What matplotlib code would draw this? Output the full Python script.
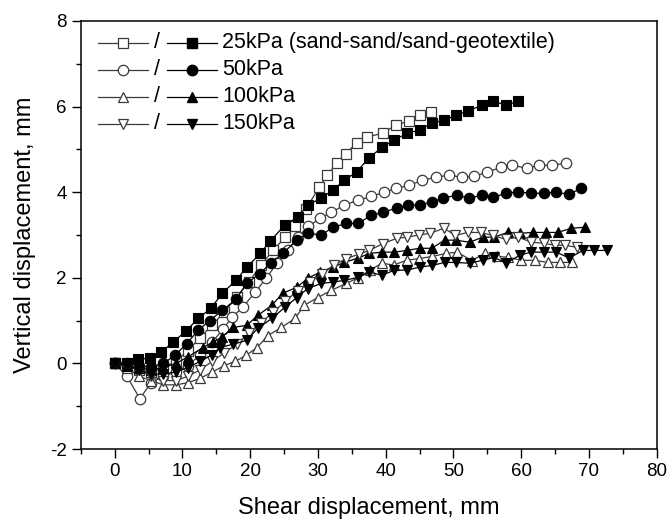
import matplotlib
matplotlib.use("Agg")
import matplotlib.pyplot as plt
from matplotlib.ticker import MultipleLocator

plt.rcParams['font.family'] = ['Liberation Sans', 'DejaVu Sans']
plt.rcParams['axes.unicode_minus'] = False

# 25 kPa
sq_open_x = [0, 1.8, 3.6, 5.4, 7.2, 9.0, 10.8, 12.6, 14.4, 16.2, 18.0, 19.8, 21.6, 23.4,
             25.2, 26.6, 28.2, 30.2, 31.4, 32.8, 34.1, 35.7, 37.3, 39.6, 41.5, 43.5, 45.1, 46.7]
sq_open_y = [0, -0.05, -0.15, -0.2, -0.1, 0.05, 0.3, 0.6, 0.9, 1.2, 1.55, 1.9, 2.3, 2.65,
             2.95, 3.2, 3.6, 4.12, 4.4, 4.68, 4.9, 5.15, 5.29, 5.38, 5.57, 5.66, 5.8, 5.87]
sq_fill_x = [0, 1.8, 3.5, 5.2, 6.9, 8.6, 10.5, 12.3, 14.2, 15.9, 17.9, 19.5, 21.5, 22.9,
             25.1, 27.0, 28.5, 30.5, 32.2, 33.9, 35.7, 37.5, 39.5, 41.3, 43.2, 45.0, 46.8,
             48.6, 50.4, 52.2, 54.2, 55.9, 57.8, 59.6]
sq_fill_y = [0, 0, 0.1, 0.12, 0.26, 0.5, 0.75, 1.05, 1.29, 1.64, 1.94, 2.25, 2.57, 2.85,
             3.23, 3.42, 3.7, 3.86, 4.05, 4.28, 4.47, 4.8, 5.05, 5.22, 5.38, 5.45, 5.61,
             5.68, 5.8, 5.9, 6.03, 6.13, 6.03, 6.13]

# 50 kPa
ci_open_x = [0, 1.8, 3.7, 5.4, 7.2, 9.0, 10.8, 12.6, 14.4, 16.0, 17.3, 18.9, 20.7, 22.4,
             24.0, 25.6, 27.0, 28.6, 30.3, 32.0, 33.9, 35.9, 37.9, 39.8, 41.5, 43.5, 45.4,
             47.5, 49.3, 51.2, 53.1, 55.0, 57.0, 58.7, 60.8, 62.7, 64.6, 66.6]
ci_open_y = [0, -0.3, -0.82, -0.45, -0.3, -0.2, -0.05, 0.2, 0.5, 0.8, 1.08, 1.31, 1.66, 2.0,
             2.35, 2.65, 2.95, 3.2, 3.39, 3.53, 3.7, 3.81, 3.9, 4.0, 4.09, 4.16, 4.28,
             4.35, 4.4, 4.35, 4.37, 4.47, 4.58, 4.63, 4.56, 4.63, 4.63, 4.68]
ci_fill_x = [0, 1.8, 3.6, 5.4, 7.2, 8.9, 10.6, 12.3, 14.0, 15.9, 17.9, 19.5, 21.4, 23.1,
             24.8, 26.9, 28.5, 30.5, 32.2, 34.2, 35.9, 37.9, 39.6, 41.6, 43.3, 45.0, 46.8,
             48.4, 50.5, 52.3, 54.2, 55.9, 57.8, 59.6, 61.5, 63.3, 65.2, 67.0, 68.9]
ci_fill_y = [0, 0.02, -0.05, -0.08, 0.0, 0.19, 0.46, 0.77, 1.0, 1.24, 1.5, 1.87, 2.1, 2.35,
             2.57, 2.88, 3.04, 3.0, 3.18, 3.27, 3.27, 3.46, 3.53, 3.63, 3.7, 3.7, 3.77,
             3.86, 3.93, 3.86, 3.93, 3.88, 3.98, 4.0, 3.98, 3.97, 4.0, 3.95, 4.09]

# 100 kPa
tu_open_x = [0, 1.8, 3.6, 5.4, 7.2, 9.0, 10.8, 12.6, 14.4, 16.2, 17.8, 19.4, 21.0, 22.6,
             24.6, 26.6, 28.0, 30.0, 32.0, 34.2, 35.9, 37.7, 39.4, 41.2, 43.1, 44.9, 46.9,
             48.9, 50.6, 52.7, 54.6, 56.4, 58.1, 60.0, 62.0, 63.9, 65.7, 67.5]
tu_open_y = [0, -0.1, -0.3, -0.4, -0.5, -0.5, -0.45, -0.35, -0.2, -0.05, 0.05, 0.19, 0.37,
             0.65, 0.84, 1.05, 1.36, 1.54, 1.71, 1.87, 2.0, 2.18, 2.34, 2.3, 2.41, 2.45,
             2.5, 2.57, 2.6, 2.4, 2.57, 2.5, 2.48, 2.41, 2.41, 2.36, 2.36, 2.36]
tu_fill_x = [0, 1.8, 3.6, 5.4, 7.2, 9.0, 10.8, 13.0, 14.5, 15.8, 17.4, 19.5, 21.1, 23.2,
             24.8, 26.9, 28.5, 30.3, 32.2, 33.9, 35.9, 37.6, 39.5, 41.3, 43.1, 45.0, 46.8,
             48.7, 50.4, 52.4, 54.3, 56.0, 58.0, 59.8, 61.7, 63.6, 65.4, 67.4, 69.4]
tu_fill_y = [0, -0.05, -0.1, -0.15, -0.1, 0.0, 0.15, 0.37, 0.5, 0.61, 0.84, 0.89, 1.12,
             1.36, 1.64, 1.78, 1.99, 2.13, 2.25, 2.36, 2.46, 2.57, 2.6, 2.6, 2.64, 2.69,
             2.69, 2.88, 2.88, 2.83, 2.95, 2.95, 3.06, 3.04, 3.06, 3.06, 3.06, 3.16, 3.18]

# 150 kPa
td_open_x = [0, 1.8, 3.6, 5.4, 7.2, 9.0, 10.8, 12.6, 14.4, 16.2, 18.0, 19.8, 21.6, 23.4,
             25.2, 27.0, 28.8, 30.6, 32.4, 34.2, 36.0, 37.6, 39.6, 41.6, 43.2, 44.9, 46.6,
             48.6, 50.3, 52.1, 54.0, 55.8, 57.7, 59.6, 61.5, 63.3, 65.0, 66.5, 68.3]
td_open_y = [0, -0.05, -0.15, -0.3, -0.4, -0.4, -0.3, -0.15, 0.05, 0.25, 0.45, 0.7, 0.95,
             1.2, 1.45, 1.7, 1.9, 2.1, 2.3, 2.45, 2.55, 2.64, 2.8, 2.92, 2.95, 3.0, 3.04,
             3.16, 2.99, 3.06, 3.06, 2.99, 2.9, 2.95, 2.83, 2.81, 2.76, 2.76, 2.71]
td_fill_x = [0, 1.8, 3.6, 5.4, 7.2, 9.0, 10.8, 12.6, 14.4, 15.5, 17.5, 19.5, 21.1, 23.2,
             25.1, 26.9, 28.5, 30.5, 32.2, 33.9, 35.9, 37.6, 39.5, 41.3, 43.2, 45.0, 46.9,
             48.7, 50.4, 52.4, 54.3, 56.0, 57.8, 59.8, 61.5, 63.3, 65.2, 67.1, 69.1, 70.8,
             72.6]
td_fill_y = [0, -0.05, -0.15, -0.25, -0.25, -0.2, -0.1, 0.05, 0.2, 0.37, 0.45, 0.54, 0.82,
             1.05, 1.31, 1.54, 1.75, 1.87, 1.9, 1.94, 2.01, 2.13, 2.06, 2.18, 2.18, 2.25,
             2.29, 2.36, 2.36, 2.34, 2.41, 2.48, 2.34, 2.53, 2.6, 2.6, 2.6, 2.46, 2.64,
             2.64, 2.64]

labels = ['25kPa (sand-sand/sand-geotextile)', '50kPa', '100kPa', '150kPa']
markers = ['s', 'o', '^', 'v']

OPEN_COLOR = '#3a3a3a'
MS = 7.5


def draw_series(ax, x, y, marker, filled):
    if filled:
        ax.plot(x, y, color='black', lw=0.9, marker=marker, ms=MS,
                mfc='black', mec='black', mew=0.8)
    else:
        ax.plot(x, y, color=OPEN_COLOR, lw=0.9, marker=marker, ms=MS,
                mfc='white', mec=OPEN_COLOR, mew=0.9)


def draw_legend(ax):
    # hand-made legend rows: open / filled  label
    y0 = 0.949
    dy = 0.063
    for i, (lab, m) in enumerate(zip(labels, markers)):
        yy = y0 - i * dy
        ax.plot([0.030, 0.116], [yy, yy], transform=ax.transAxes, color=OPEN_COLOR,
                lw=0.9, clip_on=False)
        ax.plot([0.073], [yy], transform=ax.transAxes, marker=m, ms=MS, mfc='white',
                mec=OPEN_COLOR, mew=0.9, clip_on=False)
        ax.text(0.133, yy, '/', transform=ax.transAxes, ha='center', va='center',
                fontsize=15.5)
        ax.plot([0.149, 0.236], [yy, yy], transform=ax.transAxes, color='black',
                lw=0.9, clip_on=False)
        ax.plot([0.193], [yy], transform=ax.transAxes, marker=m, ms=MS, mfc='black',
                mec='black', clip_on=False)
        ax.text(0.246, yy, lab, transform=ax.transAxes, ha='left', va='center',
                fontsize=15.5)


fig = plt.figure(figsize=(6.68, 5.24), dpi=100)
ax = fig.add_axes([0.121, 0.143, 0.862, 0.817])

series = [
    (sq_open_x, sq_open_y, 's', False), (sq_fill_x, sq_fill_y, 's', True),
    (ci_open_x, ci_open_y, 'o', False), (ci_fill_x, ci_fill_y, 'o', True),
    (tu_open_x, tu_open_y, '^', False), (tu_fill_x, tu_fill_y, '^', True),
    (td_open_x, td_open_y, 'v', False), (td_fill_x, td_fill_y, 'v', True),
]
for x, y, m, f in series:
    draw_series(ax, x, y, m, f)

ax.set_xlim(-5, 80)
ax.set_ylim(-2, 8)
ax.xaxis.set_major_locator(MultipleLocator(10))
ax.xaxis.set_minor_locator(MultipleLocator(5))
ax.yaxis.set_major_locator(MultipleLocator(2))
ax.yaxis.set_minor_locator(MultipleLocator(1))
ax.tick_params(which='both', direction='out', top=False, right=False, labelsize=13.5,
               width=1.0)
ax.tick_params(which='major', length=6.5)
ax.tick_params(which='minor', length=3.5)
for sp in ax.spines.values():
    sp.set_linewidth(1.1)

ax.set_xlabel('Shear displacement, mm', fontsize=17, labelpad=12)
ax.set_ylabel('Vertical displacement, mm', fontsize=17, labelpad=10)

draw_legend(ax)

fig.savefig('out.png', dpi=100)
